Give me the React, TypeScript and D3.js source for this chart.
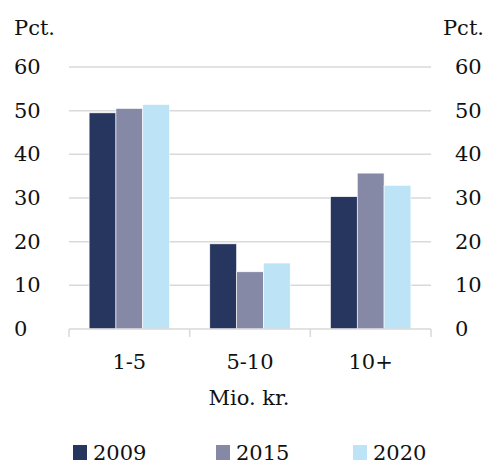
import React from 'react';
import * as d3 from 'd3';

const categories = ['1-5', '5-10', '10+'];
const years = ['2009', '2015', '2020'];
const values2009 = [49.5, 19.5, 30.3];
const values2015 = [50.5, 13.1, 35.7];
const values2020 = [51.4, 15.1, 32.9];
const yTicks = [0, 10, 20, 30, 40, 50, 60];

const series = [values2009, values2015, values2020];
const colors = ['#27365e', '#8589a6', '#bde4f6'];

const W = 488;
const H = 465;
const FONT = '"DejaVu Serif", "Liberation Serif", serif';

export default function App() {
	const x = d3.scaleBand().domain(categories).range([69, 431]).paddingInner(0).paddingOuter(0);
	const inner = d3.scaleBand().domain(years).range([0, x.bandwidth()]).paddingInner(0).paddingOuter(0.75);
	const y = d3.scaleLinear().domain([0, 60]).range([329, 67]);

	const legendX = [73, 216, 353];

	return (
		<svg width={W} height={H} style={{ position: 'absolute', left: 0, top: 0, background: '#fff' }}
			fontFamily={FONT} fontSize={21}>
			<text x={14} y={35} fill="#111">Pct.</text>
			<text x={484} y={35} textAnchor="end" fill="#111">Pct.</text>

			{yTicks.filter(t => t > 0).map(t => (
				<line key={t} x1={69} x2={431} y1={y(t)} y2={y(t)} stroke="#d9d9d9" strokeWidth={1.5} />
			))}
			{yTicks.map(t => (
				<g key={'l' + t}>
					<text x={14} y={y(t) + 7} fill="#111">{t}</text>
					<text x={455} y={y(t) + 7} fill="#111">{t}</text>
				</g>
			))}

			{categories.map((c, i) => (
				<g key={c} transform={`translate(${x(c)},0)`}>
					{series.map((vals, j) => (
						<rect key={years[j]} x={inner(years[j])} y={y(vals[i])}
							width={inner.bandwidth()} height={y(0) - y(vals[i])}
							fill={colors[j]} stroke="#ffffff" strokeWidth={0.6} />
					))}
					<text x={x.bandwidth() / 2} y={369} textAnchor="middle" fill="#111">{c}</text>
				</g>
			))}

			<line x1={69} x2={431} y1={y(0)} y2={y(0)} stroke="#d9d9d9" strokeWidth={1.5} />
			{[...categories.map(c => x(c) as number), 431].map((tx, i) => (
				<line key={'t' + i} x1={tx} x2={tx} y1={y(0)} y2={y(0) + 8} stroke="#d9d9d9" strokeWidth={1.5} />
			))}

			<text x={249} y={405} textAnchor="middle" fill="#111">Mio. kr.</text>

			{years.map((yr, j) => (
				<g key={yr}>
					<rect x={legendX[j]} y={445} width={14} height={15} fill={colors[j]} />
					<text x={legendX[j] + 20} y={460} fill="#111">{yr}</text>
				</g>
			))}
		</svg>
	);
}
